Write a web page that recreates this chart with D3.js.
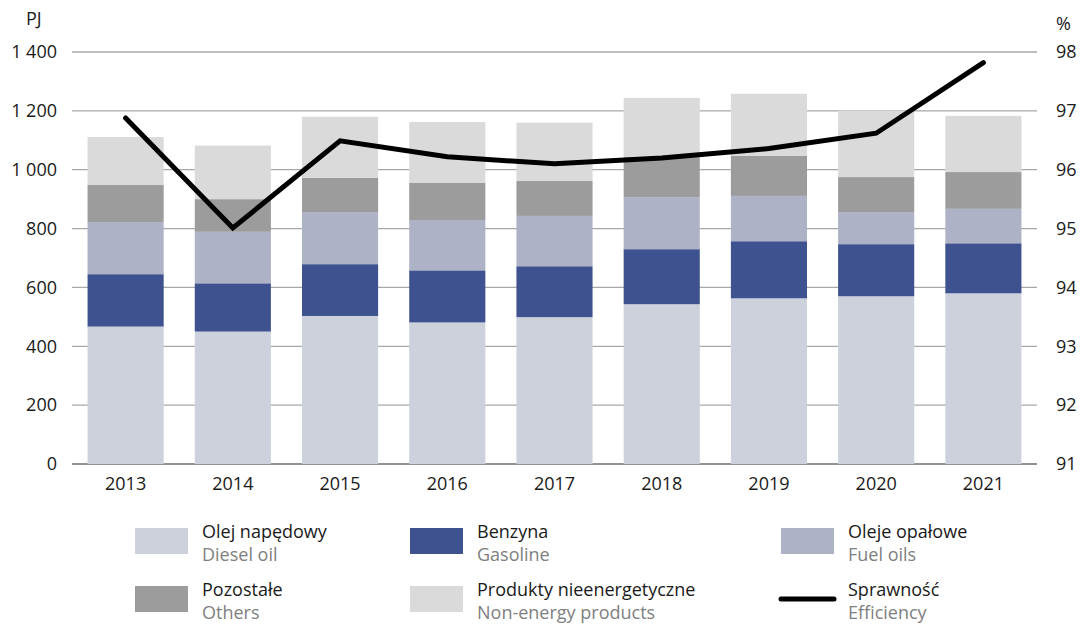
<!DOCTYPE html>
<html>
<head>
<meta charset="utf-8">
<script src="https://cdn.jsdelivr.net/npm/d3@7"></script>
<style>
  body { margin: 0; background: #fff; }
  svg text { font-family: "Open Sans", sans-serif; }
</style>
</head>
<body>
<div id="chart"></div>
<script>
const years = ["2013", "2014", "2015", "2016", "2017", "2018", "2019", "2020", "2021"];
const diesel = [467, 450, 503, 481, 499, 543, 563, 570, 580];
const gasoline = [178, 164, 176, 177, 173, 187, 194, 177, 170];
const fuelOils = [177, 175, 177, 171, 171, 177, 154, 109, 117];
const others = [126, 111, 117, 126, 119, 136, 136, 119, 125];
const nonEnergy = [163, 182, 207, 207, 198, 201, 211, 226, 191];
const efficiency = [96.88, 95.01, 96.49, 96.22, 96.1, 96.2, 96.36, 96.62, 97.82];
const leftTicks = [0, 200, 400, 600, 800, 1000, 1200, 1400];
const rightTicks = [91, 92, 93, 94, 95, 96, 97, 98];

const keys = ["diesel", "gasoline", "fuelOils", "others", "nonEnergy"];
const colors = { diesel: "#cdd1dc", gasoline: "#3e528f", fuelOils: "#adb2c6", others: "#9c9c9c", nonEnergy: "#dadada" };

const w = 1081, h = 624;
const margin = { left: 72, right: 44, top: 52, bottom: 160 };
const fs = 18;

const svg = d3.select("#chart").append("svg").attr("width", w).attr("height", h);

const table = years.map((y, i) => ({
  year: y, diesel: diesel[i], gasoline: gasoline[i], fuelOils: fuelOils[i],
  others: others[i], nonEnergy: nonEnergy[i], eff: efficiency[i]
}));

const x = d3.scaleBand().domain(years).range([margin.left, w - margin.right]).paddingInner(0.29).paddingOuter(0.145);
const y = d3.scaleLinear().domain([0, 1400]).range([h - margin.bottom, margin.top]);
const y2 = d3.scaleLinear().domain([91, 98]).range([h - margin.bottom, margin.top]);

// gridlines
svg.append("g").selectAll("line").data(leftTicks).enter().append("line")
  .attr("x1", margin.left).attr("x2", w - margin.right)
  .attr("y1", d => y(d)).attr("y2", d => y(d))
  .attr("stroke", d => d === 0 ? "#6f6f6f" : "#a8a8a8").attr("stroke-width", d => d === 0 ? 1.6 : 1.3);

const stack = d3.stack().keys(keys)(table);
svg.append("g").selectAll("g").data(stack).enter().append("g")
  .attr("fill", d => colors[d.key])
  .selectAll("rect").data(d => d).enter().append("rect")
  .attr("x", d => x(d.data.year))
  .attr("width", x.bandwidth())
  .attr("y", d => y(d[1]))
  .attr("height", d => y(d[0]) - y(d[1]));

// efficiency line
const line = d3.line().x(d => x(d.year) + x.bandwidth() / 2).y(d => y2(d.eff));
svg.append("path").datum(table).attr("d", line)
  .attr("fill", "none").attr("stroke", "#000").attr("stroke-width", 5)
  .attr("stroke-linecap", "round").attr("stroke-linejoin", "miter");

// axes
const fmt = d => d3.format(",")(d).replace(",", " ");
const yAxis = d3.axisLeft(y).tickValues(leftTicks).tickFormat(fmt).tickSize(0).tickPadding(15);
svg.append("g").attr("transform", "translate(" + margin.left + ",0)").call(yAxis)
  .call(g => g.select(".domain").remove())
  .selectAll("text").attr("font-size", fs).attr("fill", "#1a1a1a");

const y2Axis = d3.axisRight(y2).tickValues(rightTicks).tickFormat(d3.format("d")).tickSize(0).tickPadding(19);
svg.append("g").attr("transform", "translate(" + (w - margin.right) + ",0)").call(y2Axis)
  .call(g => g.select(".domain").remove())
  .selectAll("text").attr("font-size", fs).attr("fill", "#1a1a1a");

const xAxis = d3.axisBottom(x).tickSize(0).tickPadding(13);
svg.append("g").attr("transform", "translate(0," + (h - margin.bottom) + ")").call(xAxis)
  .call(g => g.select(".domain").remove())
  .selectAll("text").attr("font-size", fs).attr("fill", "#1a1a1a");

svg.append("text").attr("x", 26).attr("y", 25).attr("font-size", fs).attr("fill", "#1a1a1a").text("PJ");
svg.append("text").attr("x", 1056).attr("y", 30).attr("font-size", fs).attr("fill", "#1a1a1a").text("%");

// legend
const legend = [
  { pl: "Olej napędowy", en: "Diesel oil", color: colors.diesel, col: 0, row: 0 },
  { pl: "Benzyna", en: "Gasoline", color: colors.gasoline, col: 1, row: 0 },
  { pl: "Oleje opałowe", en: "Fuel oils", color: colors.fuelOils, col: 2, row: 0 },
  { pl: "Pozostałe", en: "Others", color: colors.others, col: 0, row: 1 },
  { pl: "Produkty nieenergetyczne", en: "Non-energy products", color: colors.nonEnergy, col: 1, row: 1 },
  { pl: "Sprawność", en: "Efficiency", line: true, col: 2, row: 1 }
];
const colX = [135, 410, 781];
const rowY = [528, 586];
const lg = svg.append("g").selectAll("g").data(legend).enter().append("g")
  .attr("transform", d => "translate(" + colX[d.col] + "," + rowY[d.row] + ")");
lg.filter(d => !d.line).append("rect").attr("width", 53).attr("height", 26).attr("fill", d => d.color);
lg.filter(d => d.line).append("line").attr("x1", 0).attr("x2", 53).attr("y1", 13).attr("y2", 13)
  .attr("stroke", "#000").attr("stroke-width", 5).attr("stroke-linecap", "round");
lg.append("text").attr("x", 67).attr("y", 10).attr("font-size", fs).attr("fill", "#1a1a1a").text(d => d.pl);
lg.append("text").attr("x", 67).attr("y", 33).attr("font-size", fs).attr("fill", "#808080").text(d => d.en);
</script>
</body>
</html>
